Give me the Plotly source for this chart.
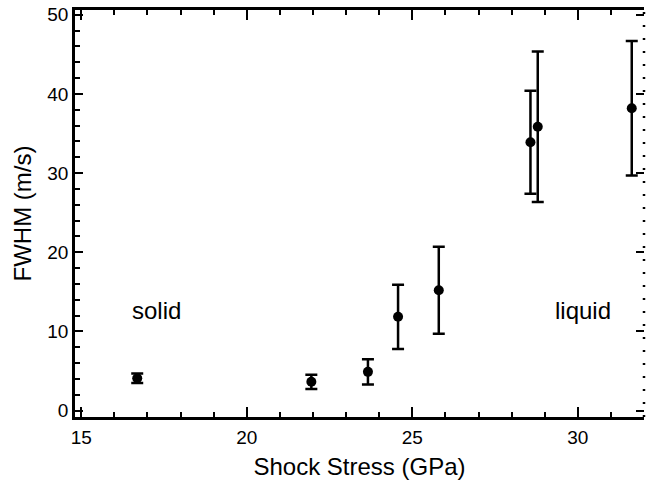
import plotly.graph_objects as go

# Data
stress_gpa = [16.69, 21.95, 23.66, 24.57, 25.80, 28.57, 28.79, 31.63]
fwhm_ms = [4.1, 3.65, 4.9, 11.85, 15.2, 33.9, 35.85, 38.2]
fwhm_err = [0.6, 0.9, 1.6, 4.05, 5.5, 6.5, 9.5, 8.5]

x_range = [14.81, 32.0]
y_range = [-0.8, 50.6]

phase_labels = ["solid", "liquid"]
phase_x = [17.28, 30.17]
phase_y = [12.7, 12.7]

FONT = "Liberation Sans, Arial, sans-serif"

fig = go.Figure()
fig.add_trace(go.Scatter(
    x=stress_gpa, y=fwhm_ms, mode="markers",
    marker=dict(color="black", size=10, symbol="circle"),
    error_y=dict(type="data", array=fwhm_err, visible=True,
                 color="black", thickness=2.5, width=6),
    showlegend=False,
))
# invisible trace for right-side tick axis
fig.add_trace(go.Scatter(x=[x_range[0]], y=[0], yaxis="y2", mode="markers",
                         marker=dict(opacity=0), showlegend=False, hoverinfo="skip"))

for txt, xx, yy in zip(phase_labels, phase_x, phase_y):
    fig.add_annotation(x=xx, y=yy, text=txt, showarrow=False,
                       font=dict(family=FONT, size=24, color="black"))

# dotted right border
fig.add_shape(type="line", xref="paper", yref="paper", x0=1, x1=1,
              y0=0, y1=1, line=dict(color="black", width=2.5, dash="2px,11px"))

fig.update_layout(
    width=646, height=487,
    margin=dict(l=75, r=2, t=10, b=70, autoexpand=False),
    paper_bgcolor="white", plot_bgcolor="white",
    font=dict(family=FONT, size=19, color="black"),
    xaxis=dict(
        range=x_range, showgrid=False, zeroline=False,
        showline=True, linecolor="black", linewidth=2.5, mirror="ticks",
        ticks="inside", tickmode="linear", tick0=15, dtick=5, ticklen=10,
        tickwidth=2, tickcolor="black", ticklabelstandoff=1,
        minor=dict(ticks="inside", dtick=1, tick0=15, ticklen=5, tickwidth=2, tickcolor="black"),
        title=dict(text="Shock Stress (GPa)", font=dict(size=24), standoff=12),
        tickfont=dict(size=19),
    ),
    yaxis=dict(
        range=y_range, showgrid=False, zeroline=False,
        showline=True, linecolor="black", linewidth=2.5, mirror=False,
        ticks="inside", tickmode="linear", tick0=0, dtick=10, ticklen=8,
        tickwidth=2, tickcolor="black",
        minor=dict(ticks="inside", dtick=2, tick0=0, ticklen=5, tickwidth=2, tickcolor="black"),
        title=dict(text="FWHM (m/s)", font=dict(size=24), standoff=9),
        tickfont=dict(size=19),
    ),
    yaxis2=dict(
        range=y_range, overlaying="y", side="right", showgrid=False, zeroline=False,
        showline=False, ticks="inside", tickmode="linear", tick0=0, dtick=10,
        ticklen=8, tickwidth=2, tickcolor="black", showticklabels=False,
    ),
)

fig.write_html(
    "out.html",
    config={"displayModeBar": False},
    post_script="document.body.style.margin='0';document.body.style.overflow='hidden';",
)
